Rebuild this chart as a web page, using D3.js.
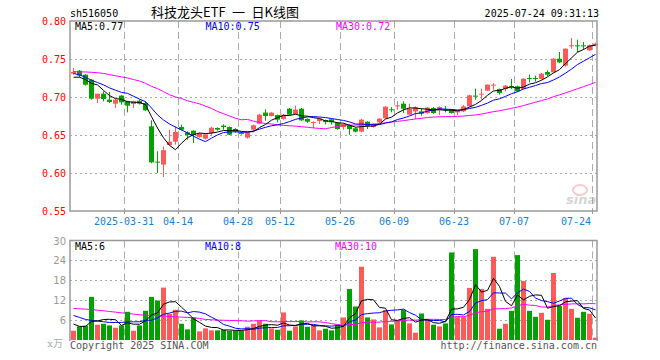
<!DOCTYPE html>
<html><head><meta charset="utf-8">
<script src="https://cdn.jsdelivr.net/npm/d3@7/dist/d3.min.js"></script>
<style>body{margin:0;background:#fff}svg{display:block}</style>
</head><body>
<svg id="c" width="660" height="360"></svg>
<script>
const open = [.7307,.7346,.7294,.7228,.6978,.7044,.6965,.6912,.7018,.6943,
.6908,.6952,.6921,.6614,.615,.611,.6368,.6412,.6605,.6535,
.6557,.6474,.6452,.6526,.6592,.6623,.6605,.6579,.6526,.6465,
.657,.6649,.6795,.675,.6763,.6711,.6846,.6776,.6846,.6711,
.6667,.6684,.6697,.6706,.6658,.6605,.6627,.6588,.6544,.6675,
.6605,.6667,.6719,.6838,.6882,.6912,.6768,.6811,.6811,.6789,
.6855,.6833,.6838,.6833,.6798,.6811,.6877,.7018,.7035,.7083,
.7158,.7105,.7105,.7144,.714,.7105,.725,.725,.7237,.7329,
.7325,.7504,.7412,.7675,.768,.768,.7614,.7675];
const close = [.7329,.7281,.7162,.6978,.7044,.6974,.6934,.6965,.693,.6886,
.6943,.6912,.6825,.614,.614,.630,.6412,.654,.657,.650,
.650,.6518,.6509,.6596,.657,.6605,.6504,.6544,.6513,.6535,
.6627,.6768,.675,.6795,.6702,.6768,.6768,.6833,.6693,.6675,
.6671,.6715,.6671,.6667,.6579,.6645,.6579,.6544,.6702,.6614,
.6645,.6715,.6873,.6829,.689,.6846,.6846,.6864,.6781,.686,
.6789,.6868,.6829,.6789,.6816,.6877,.7022,.7009,.7044,.7162,
.7162,.7053,.7149,.714,.7075,.7241,.7241,.7241,.7307,.7294,
.7504,.7456,.7636,.768,.7675,.7675,.768,.7702];
const high = [.7382,.7355,.7300,.7235,.7000,.7075,.7066,.6978,.7025,.6950,
.6950,.6965,.6943,.6693,.6285,.6350,.657,.6614,.6636,.6548,
.6560,.6535,.6515,.661,.660,.664,.6614,.659,.654,.654,
.6636,.678,.6838,.680,.677,.6776,.6855,.6886,.6855,.672,
.668,.6728,.6702,.672,.667,.6654,.664,.6597,.671,.668,
.6654,.6724,.6877,.6868,.6943,.6943,.6912,.6877,.6851,.6868,
.6868,.6877,.6882,.684,.682,.6895,.703,.711,.711,.7166,
.7184,.711,.716,.7237,.7149,.7246,.7294,.7281,.7316,.7351,
.751,.7592,.764,.7776,.7754,.7724,.769,.7715];
const low = [.7294,.7263,.7150,.6965,.6921,.6943,.6921,.6855,.690,.6798,
.6855,.6900,.6815,.6130,.600,.5947,.6368,.6373,.656,.6439,
.6395,.6465,.6439,.650,.6557,.657,.650,.653,.6505,.6452,
.6548,.664,.6689,.6745,.6667,.670,.676,.677,.6685,.666,
.6592,.6645,.664,.6636,.657,.657,.6504,.6535,.6535,.6579,
.6597,.6658,.6715,.6798,.6833,.6789,.676,.671,.6754,.678,
.678,.6763,.6798,.678,.6763,.680,.687,.6965,.6965,.708,
.7096,.7031,.7075,.7105,.7066,.710,.7193,.7202,.7232,.7272,
.732,.7447,.740,.7636,.7588,.7623,.7605,.767];
const volume = [2.8,4.1,4.3,13.0,4.6,4.9,4.4,3.7,4.4,8.5,
2.8,4.4,8.8,13.0,11.9,15.8,7.9,9.1,4.9,3.2,
6.8,2.6,3.5,2.9,2.9,3.1,2.8,2.8,2.8,4.0,
4.9,5.9,4.9,3.5,3.1,8.3,2.8,4.1,5.9,4.0,
4.5,2.9,3.4,2.9,4.7,6.8,15.4,10.1,22.1,6.8,
6.2,3.8,9.0,4.7,5.9,9.1,5.0,2.2,8.0,6.3,
4.6,4.1,5.0,26.4,6.9,6.9,15.7,27.4,15.4,9.4,
25.1,3.4,4.9,8.8,25.6,17.8,8.8,7.0,8.2,6.1,
20.2,10.3,12.7,9.4,6.7,8.5,7.9,0.7];
// moving-average values at the start of the window (prior data not shown)
const ma5Head = [.726,.726,.723,.718];
const ma10Head = [.731,.729,.726,.722,.719,.716,.712,.709,.706];
const ma30Head = [.7335,.733,.733,.7325,.732,.731,.7295,.728,.7265,.725,.723,.721,.718,.714,.711,.707,.703,.700,.698,.695,.693,.691,.688,.685,.681,.678,.675,.672,.670];
const vma5Head = [4.8,4.1,4.1,5.6];
const vma10Head = [7.4,6.8,6.2,5.9,5.7,5.5,5.3,5.3,5.3];
const vma30Head = [9.5,9.4,9.3,9.15,9.0,8.8,8.6,8.4,8.2,8.0,7.8,7.6,7.5,7.4,7.3,7.2,7.1,7.0,6.9,6.8,6.7,6.5,6.2,6.1,6.0,5.95,5.9,5.85,5.8];

const tickIdx = [9,18,28,35,45,54,64,74,87];
const tickLabels = ["2025-03-31","04-14","04-28","05-12","05-26","06-09","06-23","07-07","07-24"];
const priceTicks = [0.55,0.60,0.65,0.70,0.75,0.80];
const volTicks = [6,12,18,24,30];

const RED = "#ff5a5a", GREEN = "#00a000";
const svg = d3.select("#c");
const n = close.length;
const x = d3.scaleBand().domain(d3.range(n)).range([70, 598]).padding(0);
const yP = d3.scaleLinear().domain([0.55, 0.80]).range([211, 21]);
const yV = d3.scaleLinear().domain([0, 30]).range([340, 240.5]);
const mono = "'DejaVu Sans Mono', monospace";

function ma(arr, k, head) {
  return arr.map((_, i) => i < k - 1 ? head[i] : d3.mean(arr.slice(i - k + 1, i + 1)));
}
const ma5 = ma(close, 5, ma5Head), ma10 = ma(close, 10, ma10Head), ma30 = ma(close, 30, ma30Head);
const vma5 = ma(volume, 5, vma5Head), vma10 = ma(volume, 10, vma10Head), vma30 = ma(volume, 30, vma30Head);
const cx = i => x(i) + 3.5;

// grids
const g = svg.append("g");
function vGrid(y0, y1) {
  g.selectAll(null).data(tickIdx).enter().append("line")
    .attr("x1", d => x(d) + 0.5).attr("x2", d => x(d) + 0.5)
    .attr("y1", y0).attr("y2", y1)
    .attr("stroke", "#aaa").attr("stroke-dasharray", "7,4");
}
vGrid(21, 211); vGrid(240.5, 340);
g.selectAll(null).data(priceTicks.slice(1, -1)).enter().append("line")
  .attr("x1", 70).attr("x2", 597).attr("y1", d => Math.round(yP(d)) + 0.5).attr("y2", d => Math.round(yP(d)) + 0.5)
  .attr("stroke", "#aaa").attr("stroke-dasharray", "2,3");
g.selectAll(null).data(volTicks.slice(0, -1)).enter().append("line")
  .attr("x1", 70).attr("x2", 597).attr("y1", d => Math.round(yV(d)) + 0.5).attr("y2", d => Math.round(yV(d)) + 0.5)
  .attr("stroke", "#aaa").attr("stroke-dasharray", "2,3");

// sina watermark
const wm = svg.append("g").attr("opacity", 0.4);
wm.append("ellipse").attr("cx", 580).attr("cy", 190).attr("rx", 7).attr("ry", 5).attr("fill", "none").attr("stroke", "#f08080").attr("stroke-width", 2);
wm.append("text").attr("x", 566).attr("y", 204).text("sina")
  .attr("font-family", "'DejaVu Sans', sans-serif").attr("font-size", 13).attr("font-style", "italic").attr("font-weight", "bold").attr("fill", "#999");

// candles
const c = svg.append("g");
const idx = d3.range(n);
const col = i => close[i] >= open[i] ? RED : GREEN;
c.selectAll(null).data(idx).enter().append("line")
  .attr("x1", cx).attr("x2", cx)
  .attr("y1", i => yP(high[i])).attr("y2", i => yP(low[i]))
  .attr("stroke", col).attr("stroke-width", 1);
c.selectAll(null).data(idx).enter().append("rect")
  .attr("x", i => x(i) + 1).attr("width", 5)
  .attr("y", i => Math.min(yP(open[i]), yP(close[i])))
  .attr("height", i => Math.max(1, Math.abs(yP(open[i]) - yP(close[i]))))
  .attr("fill", col);

// volume bars
c.selectAll(null).data(idx).enter().append("rect")
  .attr("x", i => x(i) + 1).attr("width", 5)
  .attr("y", i => yV(volume[i])).attr("height", i => yV(0) - yV(volume[i]))
  .attr("fill", col);

// MA lines
function drawLine(vals, ys, color) {
  svg.append("path").datum(vals)
    .attr("d", d3.line().x((d, i) => cx(i)).y(d => ys(d)))
    .attr("fill", "none").attr("stroke", color).attr("stroke-width", 1);
}
drawLine(ma30, yP, "#ff00ff"); drawLine(ma10, yP, "#0000ff"); drawLine(ma5, yP, "#000");
drawLine(vma30, yV, "#ff00ff"); drawLine(vma10, yV, "#0000ff"); drawLine(vma5, yV, "#000");

// frames
const f = svg.append("g").attr("fill", "none").attr("stroke", "#999").attr("stroke-width", 1.5);
f.append("rect").attr("x", 70).attr("y", 21).attr("width", 527).attr("height", 190);
f.append("path").attr("d", "M70,341V240.5H597V341");
// x ticks
svg.selectAll(null).data(tickIdx).enter().append("line")
  .attr("x1", d => x(d) + 0.5).attr("x2", d => x(d) + 0.5).attr("y1", 211).attr("y2", 214)
  .attr("stroke", "#999");

// axis labels
svg.selectAll(null).data(priceTicks).enter().append("text")
  .attr("x", 66).attr("y", d => yP(d) + 3.5).attr("text-anchor", "end")
  .attr("font-family", mono).attr("font-size", 10).attr("fill", "#f00")
  .text(d => d.toFixed(2));
svg.selectAll(null).data(volTicks).enter().append("text")
  .attr("x", 66).attr("y", d => yV(d) + 4).attr("text-anchor", "end")
  .attr("font-family", "'DejaVu Sans', sans-serif").attr("font-size", 10).attr("fill", "#999")
  .text(d => d);
svg.append("text").attr("x", 63).attr("y", 347).attr("text-anchor", "end")
  .attr("font-family", "'DejaVu Serif', 'Noto Sans CJK SC', serif").attr("font-size", 10).attr("fill", "#aaa").text("x万");
svg.selectAll(null).data(tickIdx).enter().append("text")
  .attr("x", (d, k) => k === tickIdx.length - 1 ? x(d) - 1 : x(d))
  .attr("y", 225).attr("text-anchor", (d, k) => k === tickIdx.length - 1 ? "end" : "middle")
  .attr("font-family", mono).attr("font-size", 10).attr("fill", "#1a80cc")
  .text((d, k) => tickLabels[k]);

// header
function t(txt, xx, yy, color, opts = {}) {
  return svg.append("text").attr("x", xx).attr("y", yy).text(txt)
    .attr("font-family", opts.family || mono).attr("font-size", opts.size || 10)
    .attr("fill", color).attr("text-anchor", opts.anchor || "start")
    .style("white-space", "pre");
}
t("sh516050", 70, 16.5, "#000");
t("科技龙头ETF\u2002一\u2002日K线图", 151, 17, "#000", {family: "'Noto Sans CJK SC', sans-serif", size: 13});
t("2025-07-24 09:31:13", 599, 16.5, "#000", {anchor: "end"});
t("MA5:0.77", 75, 30, "#000");
t("MA10:0.75", 205.5, 30, "#0000ff");
t("MA30:0.72", 336, 30, "#ff00ff");
t("MA5:6", 75, 250, "#000");
t("MA10:8", 205, 250, "#0000ff");
t("MA30:10", 335, 250, "#ff00ff");
t("Copyright 2025 SINA.COM", 70, 349, "#555");
t("http://finance.sina.com.cn", 597, 349, "#555", {anchor: "end"});
</script>
</body></html>
